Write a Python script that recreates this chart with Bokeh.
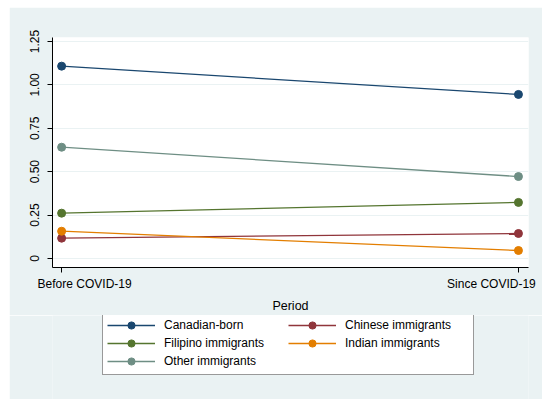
from bokeh.plotting import figure
from bokeh.layouts import column
from bokeh.models import (Range1d, FixedTicker, CustomJSTickFormatter, Legend, LegendItem,
                          LinearAxis)
from bokeh.embed import file_html
from bokeh.resources import INLINE

periods = ["Before COVID-19", "Since COVID-19"]
series_names = ["Canadian-born", "Chinese immigrants", "Filipino immigrants",
                "Indian immigrants", "Other immigrants"]
canadian_born = [1.108, 0.945]
chinese_imm = [0.117, 0.144]
filipino_imm = [0.261, 0.323]
indian_imm = [0.157, 0.046]
other_imm = [0.641, 0.472]
y_ticks = [0, 0.25, 0.5, 0.75, 1.0, 1.25]
x_title = "Period"

series_values = [canadian_born, chinese_imm, filipino_imm, indian_imm, other_imm]
colors = ["#1a476f", "#90353b", "#55752f", "#e37e00", "#6e8e84"]

FONT = "Liberation Sans"
BG = "#eaf2f3"

x = list(range(len(periods)))
XR = (-0.02, 1.022)
FW, BL, BR = 476, 43, 14
upp = (XR[1] - XR[0]) / FW          # data units per pixel along x
label_shift_px = [23, -27]          # tick labels sit a little inward of their ticks

# ---------------- main plot ----------------
p = figure(frame_width=FW, frame_height=230, output_backend="svg", toolbar_location=None,
           x_range=Range1d(*XR), y_range=Range1d(-0.052, 1.273),
           min_border_left=BL, min_border_right=BR, min_border_top=30,
           min_border_bottom=45, margin=(7, 0, 0, 9))
p.background_fill_color = "white"
p.border_fill_color = BG
p.outline_line_color = None

for vals, col in zip(series_values, colors):
    p.line(x, vals, line_color=col, line_width=1.3)
    p.scatter(x, vals, size=8, fill_color=col, line_color=col)

# axis A: tick marks only
p.xaxis.ticker = FixedTicker(ticks=x)
p.xaxis.formatter = CustomJSTickFormatter(code="return '';")
p.xaxis.major_label_text_font_size = "0px"
p.xaxis.major_label_standoff = 0

# axis B: the period labels and the axis title
ax_b = LinearAxis(ticker=FixedTicker(ticks=[xi + s * upp for xi, s in zip(x, label_shift_px)]),
                  formatter=CustomJSTickFormatter(args=dict(labels=periods),
                                                  code="return labels[index];"),
                  axis_line_color=None, major_tick_line_color=None,
                  minor_tick_line_color=None, major_tick_out=0, major_tick_in=0,
                  major_label_standoff=4,
                  major_label_text_font=FONT, major_label_text_font_size="12px",
                  major_label_text_color="black",
                  axis_label=x_title, axis_label_standoff=5,
                  axis_label_text_font=FONT, axis_label_text_font_size="12.5px",
                  axis_label_text_font_style="normal", axis_label_text_color="black")
p.add_layout(ax_b, "below")

p.yaxis.ticker = FixedTicker(ticks=y_ticks)
p.yaxis.formatter = CustomJSTickFormatter(code="return tick == 0 ? '0' : tick.toFixed(2);")
p.yaxis.major_label_orientation = "vertical"
p.yaxis.major_label_text_font = FONT
p.yaxis.major_label_text_font_size = "12px"
p.yaxis.major_label_text_color = "black"
p.yaxis.major_label_standoff = 8

for ax in (p.xaxis[0], p.yaxis[0]):
    ax.axis_line_color = "black"
    ax.axis_line_width = 1
    ax.major_tick_line_color = "black"
    ax.major_tick_out = 5
    ax.major_tick_in = 0
    ax.minor_tick_line_color = None

p.xgrid.grid_line_color = None
p.ygrid.grid_line_color = BG
p.ygrid.grid_line_width = 1

# ---------------- lower panel: legend ----------------
q = figure(width=BL + FW + BR, height=84, output_backend="svg", toolbar_location=None,
           x_range=Range1d(*XR), y_range=Range1d(100, 101),
           x_axis_type=None, y_axis_type=None,
           min_border_left=BL, min_border_right=BR, min_border_top=0,
           min_border_bottom=0, margin=(0, 0, 0, 9))
q.background_fill_color = BG
q.border_fill_color = BG
q.outline_line_color = None
q.grid.visible = False

# copies of the series outside q's view, so the legend can show their glyphs
leg_renderers = []
for vals, col in zip(series_values, colors):
    lr = q.line(x, vals, line_color=col, line_width=1.3)
    sr = q.scatter(x, vals, size=8, fill_color=col, line_color=col)
    leg_renderers.append([lr, sr])

# legend is filled column by column: col 1 = Canadian, Filipino, Other; col 2 = Chinese, Indian
order = [0, 2, 4, 1, 3]
items = [LegendItem(label=series_names[i], renderers=leg_renderers[i]) for i in order]
legend = Legend(items=items, ncols=2, location=(50, 24),
                label_text_font=FONT, label_text_font_size="12px",
                label_text_color="black",
                glyph_width=48, glyph_height=18, label_height=18,
                label_width=124, label_standoff=9, spacing=0, padding=4, margin=0,
                border_line_color="#333333", border_line_width=1,
                background_fill_color="white", background_fill_alpha=1.0)
q.add_layout(legend, "center")

layout = column(p, q, spacing=0)
open("out.html", "w").write(file_html(layout, INLINE))
